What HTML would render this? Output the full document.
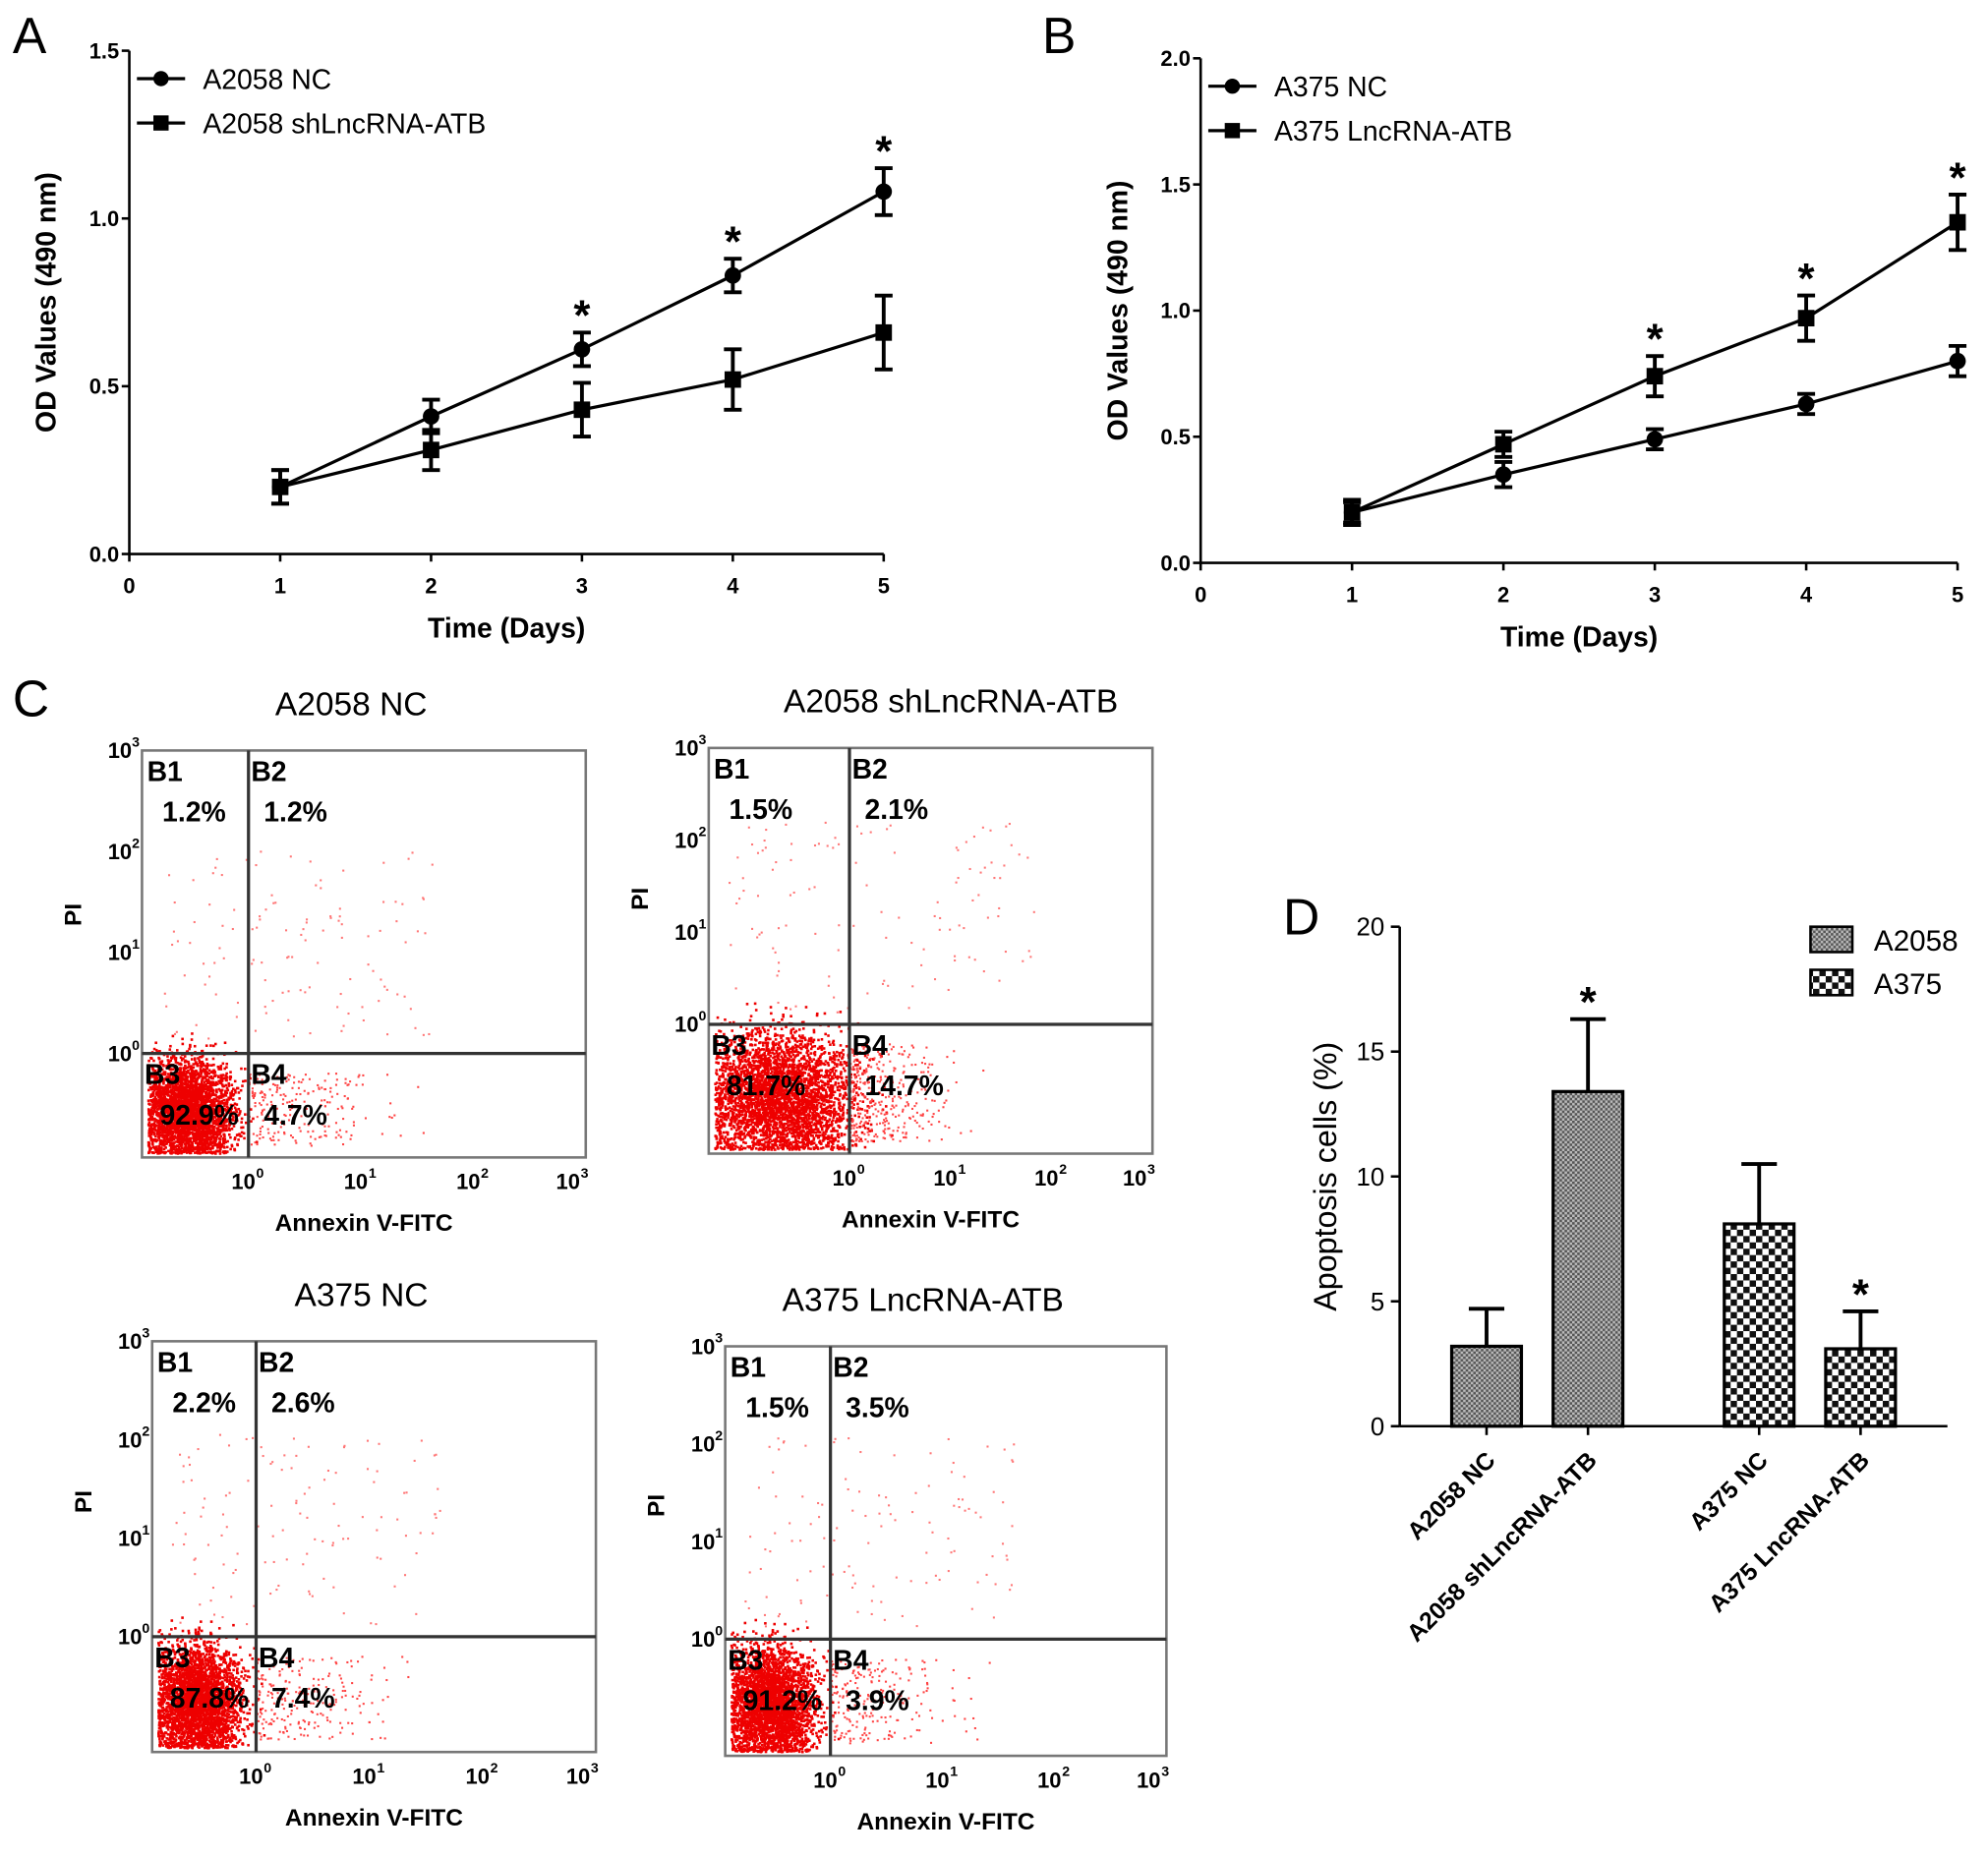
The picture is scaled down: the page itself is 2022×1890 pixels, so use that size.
<!DOCTYPE html>
<html><head><meta charset="utf-8"><style>
html,body{margin:0;padding:0;background:#fff}
svg{display:block}
text{font-family:"Liberation Sans",Arial,sans-serif}
</style></head><body>
<svg id="fig" width="2022" height="1890" viewBox="0 0 1568 1465.6" preserveAspectRatio="none" xmlns="http://www.w3.org/2000/svg">
<defs>
<pattern id="patA" width="4" height="4" patternUnits="userSpaceOnUse"><rect width="4" height="4" fill="#bbb"/><rect width="2" height="2" fill="#555"/><rect x="2" y="2" width="2" height="2" fill="#555"/></pattern>
<pattern id="patB" width="10" height="10" patternUnits="userSpaceOnUse"><rect width="10" height="10" fill="#fff"/><rect width="5" height="5" fill="#111"/><rect x="5" y="5" width="5" height="5" fill="#111"/></pattern>
</defs>
<g id="root"></g>
</svg>
<script>
// Panel A data
const daysA=[1,2,3,4,5];
const a2058NC=[0.20,0.41,0.61,0.83,1.08];
const a2058NCerr=[0.05,0.05,0.05,0.05,0.07];
const a2058SH=[0.20,0.31,0.43,0.52,0.66];
const a2058SHerr=[0.05,0.06,0.08,0.09,0.11];
const starsA=[3,4,5];
// Panel B data
const daysB=[1,2,3,4,5];
const a375NC=[0.20,0.35,0.49,0.63,0.80];
const a375NCerr=[0.05,0.05,0.04,0.04,0.06];
const a375L=[0.20,0.47,0.74,0.97,1.35];
const a375Lerr=[0.04,0.05,0.08,0.09,0.11];
const starsB=[3,4,5];
// Panel D data
const barCats=["A2058 NC","A2058 shLncRNA-ATB","A375 NC","A375 LncRNA-ATB"];
const barVals=[3.2,13.4,8.1,3.1];
const barErr=[1.5,2.9,2.4,1.5];
const barStars=[false,true,false,true];
// Flow percentages
const flowTitles=["A2058 NC","A2058 shLncRNA-ATB","A375 NC","A375 LncRNA-ATB"];
const flowPct=[["1.2%","1.2%","92.9%","4.7%"],["1.5%","2.1%","81.7%","14.7%"],["2.2%","2.6%","87.8%","7.4%"],["1.5%","3.5%","91.2%","3.9%"]];

const NS="http://www.w3.org/2000/svg";
const root=document.getElementById('root');
function el(tag,attrs,parent,txt){const e=document.createElementNS(NS,tag);for(const k in attrs)e.setAttribute(k,attrs[k]);if(txt!==undefined)e.textContent=txt;(parent||root).appendChild(e);return e;}
function grp(name){const g=el('g',{});return g;}

function letter(t,x,y){const e=el('text',{x:x,y:y,'font-size':40},root,t);}
letter('A',10,42);letter('B',822,42);letter('C',10,565);letter('D',1012,737);

function linePanel(id,ox,x5,yTop,yBot,ymax,yticks,s1,e1,s2,e2,stars,leg,starSeries){
  const g=grp('panel-'+id);
  const X=d=>ox+(x5-ox)*d/5, Y=v=>yBot-(yBot-yTop)*v/ymax;
  el('line',{x1:ox,y1:yTop,x2:ox,y2:yBot,stroke:'#000','stroke-width':2},g);
  el('line',{x1:ox,y1:yBot,x2:x5,y2:yBot,stroke:'#000','stroke-width':2},g);
  yticks.forEach(v=>{el('line',{x1:ox-6,y1:Y(v),x2:ox,y2:Y(v),stroke:'#000','stroke-width':2},g);
    const t=el('text',{x:ox-8,y:Y(v)+6,'font-size':17,'font-weight':'bold','text-anchor':'end'},g,v.toFixed(1));});
  [0,1,2,3,4,5].forEach(d=>{el('line',{x1:X(d),y1:yBot,x2:X(d),y2:yBot+6,stroke:'#000','stroke-width':2},g);
    const t=el('text',{x:X(d),y:yBot+31,'font-size':17,'font-weight':'bold','text-anchor':'middle'},g,String(d));});
  let t=el('text',{x:(ox+x5)/2,y:yBot+66,'font-size':22,'font-weight':'bold','text-anchor':'middle'},g,'Time (Days)');
  t=el('text',{transform:`translate(${ox-58},${(yTop+yBot)/2}) rotate(-90)`,'font-size':22,'font-weight':'bold','text-anchor':'middle'},g,'OD Values (490 nm)');
  [[s1,e1,'circle'],[s2,e2,'square']].forEach(([s,e,m],si)=>{
    const pts=s.map((v,i)=>X(i+1)+','+Y(v)).join(' ');
    const pl=el('polyline',{points:pts,fill:'none',stroke:'#000','stroke-width':2.5},g);
    s.forEach((v,i)=>{const x=X(i+1);
      el('line',{x1:x,y1:Y(v-e[i]),x2:x,y2:Y(v+e[i]),stroke:'#000','stroke-width':3},g);
      el('line',{x1:x-7,y1:Y(v-e[i]),x2:x+7,y2:Y(v-e[i]),stroke:'#000','stroke-width':3},g);
      el('line',{x1:x-7,y1:Y(v+e[i]),x2:x+7,y2:Y(v+e[i]),stroke:'#000','stroke-width':3},g);
      let mk;
      if(m==='circle')mk=el('circle',{cx:x,cy:Y(v),r:6.5,fill:'#000'},g);
      else mk=el('rect',{x:x-6.5,y:Y(v)-6.5,width:13,height:13,fill:'#000'},g);
      
    });
  });
  stars.forEach(d=>{const s=starSeries[0][d-1],e=starSeries[1][d-1];
    const st=el('text',{x:X(d),y:Y(s+e)-2,'font-size':34,'font-weight':'bold','text-anchor':'middle'},g,'*');});
  leg.forEach((l,i)=>{const ly=leg.y+i*35;
    el('line',{x1:leg.x,y1:ly,x2:leg.x+38,y2:ly,stroke:'#000','stroke-width':2.5},g);
    if(i===0)el('circle',{cx:leg.x+19,cy:ly,r:6,fill:'#000'},g);else el('rect',{x:leg.x+13,y:ly-6,width:12,height:12,fill:'#000'},g);
    const lt=el('text',{x:leg.x+52,y:ly+8,'font-size':22},g,l);});
}
let legA=['A2058 NC','A2058 shLncRNA-ATB'];legA.x=108;legA.y=62;
linePanel('a',102,697,40,437,1.5,[0,0.5,1.0,1.5],a2058NC,a2058NCerr,a2058SH,a2058SHerr,starsA,legA,[a2058NC,a2058NCerr]);
let legB=['A375 NC','A375 LncRNA-ATB'];legB.x=953;legB.y=68;
linePanel('b',947,1544,46,444,2.0,[0,0.5,1.0,1.5,2.0],a375NC,a375NCerr,a375L,a375Lerr,starsB,legB,[a375L,a375Lerr]);

// Flow plots
let seed=12345;function rnd(){seed=(seed*1103515245+12345)%2147483648;return seed/2147483648;}
function gauss(){return (rnd()+rnd()+rnd()+rnd()-2)/0.577;}
const boxes=[[112,592,462,913,196,831],[559,590,909,910,670,808],[120,1058,470,1382,202,1291],[572,1062,920,1385,655,1293]];
const titleX=[277,750,285,728];
boxes.forEach((b,k)=>{
  const [x0,y0,x1,y1,vx,hy]=b;const g=grp('flow-plot-'+(k+1));
  let t=el('text',{x:titleX[k],y:y0-28,'font-size':26,'text-anchor':'middle'},g,flowTitles[k]);
  const dg=grp('scatter-dots');g.appendChild(dg);
  const dense=k===1?3600:3000;
  const dw=(vx-x0)*(k===1?1.05:0.85);
  for(let i=0;i<dense;i++){const x=x0+4+Math.abs(dw*(0.45+0.25*gauss())),y=y1-4-Math.abs((y1-hy)*(0.42+0.25*gauss()));
    if(x<x1-2&&y>y0&&y<y1)el('rect',{x:x,y:y,width:2,height:2,fill:'#e00'},dg);}
  const b4=k===1?320:220;
  for(let i=0;i<b4;i++){const x=vx+Math.abs(gauss())*(k===1?35:50),y=hy+15+rnd()*(y1-hy-25);if(x<x1-4)el('rect',{x:x,y:y,width:1.6,height:1.6,fill:'#f44'},dg);}
  for(let i=0;i<120;i++){const x=x0+15+rnd()*(vx-x0+130),y=hy-10-rnd()*150;el('rect',{x:x,y:y,width:1.6,height:1.6,fill:'#f77'},dg);}
  el('rect',{x:x0,y:y0,width:x1-x0,height:y1-y0,fill:'none',stroke:'#777','stroke-width':2},g);
  el('line',{x1:vx,y1:y0,x2:vx,y2:y1,stroke:'#333','stroke-width':2.5},g);
  el('line',{x1:x0,y1:hy,x2:x1,y2:hy,stroke:'#333','stroke-width':2.5},g);
  const lab=[['B1',x0+4,y0+24],['B2',vx+2,y0+24],['B3',x0+2,hy+24],['B4',vx+2,hy+24]];
  lab.forEach((l,i)=>{let q=el('text',{x:l[1],y:l[2],'font-size':22,'font-weight':'bold'},g,l[0]);
    q=el('text',{x:l[1]+(i%2?10:12),y:l[2]+32,'font-size':22,'font-weight':'bold'},g,flowPct[k][i]);});
  const ys=[hy,hy-(hy-y0)/3*1,hy-(hy-y0)/3*2,y0];
  ys.forEach((yy,i)=>{const q=el('text',{x:x0-8,y:yy+6,'font-size':17,'font-weight':'bold','text-anchor':'end'},g,'10');
    el('text',{x:x0-8,y:yy-3,'font-size':11,'font-weight':'bold'},g,String(i));});
  const step=(x1-vx)/3;
  [vx,vx+step,vx+2*step,x1-10].forEach((xx,i)=>{const q=el('text',{x:xx-4,y:y1+25,'font-size':17,'font-weight':'bold','text-anchor':'middle'},g,'10');
    el('text',{x:xx+6,y:y1+16,'font-size':11,'font-weight':'bold'},g,String(i));});
  t=el('text',{x:(x0+x1)/2,y:y1+58,'font-size':19,'font-weight':'bold','text-anchor':'middle'},g,'Annexin V-FITC');
  t=el('text',{transform:`translate(${x0-48},${(y0+hy)/2+10}) rotate(-90)`,'font-size':19,'font-weight':'bold','text-anchor':'middle'},g,'PI');
});

// Panel D
(function(){
  const g=grp('panel-d');const ox=1104,yTop=731,yBot=1125,ymax=20;
  const Y=v=>yBot-(yBot-yTop)*v/ymax;
  const bx=[1145,1225,1360,1440],bw=55;
  el('line',{x1:ox,y1:yTop,x2:ox,y2:yBot,stroke:'#000','stroke-width':2},g);
  el('line',{x1:ox,y1:yBot,x2:1536,y2:yBot,stroke:'#000','stroke-width':2},g);
  [0,5,10,15,20].forEach(v=>{el('line',{x1:ox-7,y1:Y(v),x2:ox,y2:Y(v),stroke:'#000','stroke-width':2},g);
    const t=el('text',{x:ox-12,y:Y(v)+7,'font-size':20,'text-anchor':'end'},g,String(v));});
  let t=el('text',{transform:`translate(1054,${(yTop+yBot)/2}) rotate(-90)`,'font-size':25,'text-anchor':'middle'},g,'Apoptosis cells (%)');
  barVals.forEach((v,i)=>{const x=bx[i],c=x+bw/2;
    const r=el('rect',{x:x,y:Y(v),width:bw,height:yBot-Y(v),fill:i<2?'url(#patA)':'url(#patB)',stroke:'#000','stroke-width':2.5},g);
    
    const top=Y(v+barErr[i]);
    el('line',{x1:c,y1:Y(v),x2:c,y2:top,stroke:'#000','stroke-width':3},g);
    el('line',{x1:c-14,y1:top,x2:c+14,y2:top,stroke:'#000','stroke-width':3},g);
    el('line',{x1:c,y1:yBot,x2:c,y2:yBot+7,stroke:'#000','stroke-width':2},g);
    if(barStars[i]){const s=el('text',{x:c,y:top-2,'font-size':34,'font-weight':'bold','text-anchor':'middle'},g,'*');}
    const l=el('text',{transform:`translate(${c+8},${yBot+28}) rotate(-45)`,'font-size':19,'font-weight':'bold','text-anchor':'end'},g,barCats[i]);
  });
  [['A2058','url(#patA)',741],['A375','url(#patB)',775]].forEach(l=>{
    el('rect',{x:1428,y:l[2]-10,width:33,height:20,fill:l[1],stroke:'#000','stroke-width':2},g);
    const q=el('text',{x:1478,y:l[2]+9,'font-size':23},g,l[0]);});
})();
</script>
</body></html>
